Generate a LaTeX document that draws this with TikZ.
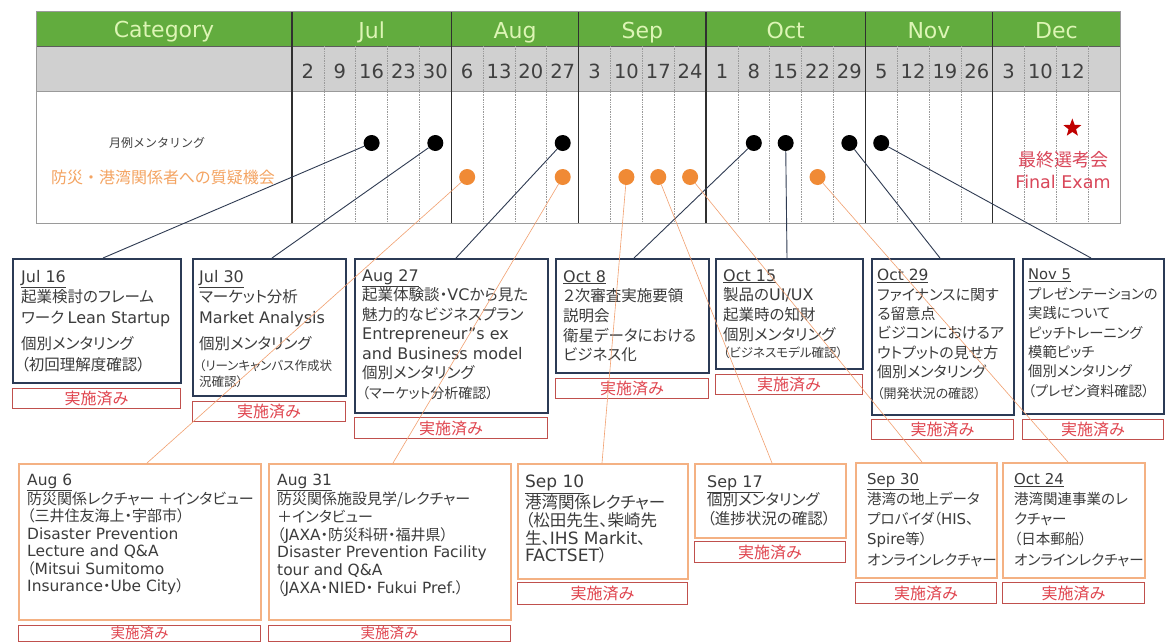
\documentclass[tikz,border=0pt]{standalone}
\usepackage{fontspec}
\setmainfont{DejaVu Sans}
\newfontfamily\jp[RawFeature=+palt]{Noto Sans CJK JP}
\newfontfamily\jpm{Noto Sans CJK JP}
\newfontfamily\lat[Scale=1.03]{DejaVu Sans}
\newfontfamily\hdf{DejaVu Sans}
\usetikzlibrary{calc,shapes.geometric}
\newcommand\ltn[1]{{\lat #1}}
\newcommand\fs[2]{\fontsize{#1}{#2}\selectfont}
\definecolor{hdrgreen}{HTML}{62AC3E}
\definecolor{hdrtext}{HTML}{DDF5B5}
\definecolor{rowgray}{HTML}{D0D0D0}
\definecolor{daytext}{HTML}{404040}
\definecolor{gridgray}{HTML}{9A9A9A}
\definecolor{monthline}{HTML}{303030}
\definecolor{dotorange}{HTML}{F08A35}
\definecolor{labelorange}{HTML}{F4A462}
\definecolor{navy}{HTML}{2B3A55}
\definecolor{peach}{HTML}{F4B183}
\definecolor{doneborder}{HTML}{C0504D}
\definecolor{donetext}{HTML}{E0454F}
\definecolor{boxtext}{HTML}{3C3C3C}
\definecolor{linenavy}{HTML}{2F3B52}
\definecolor{lineorange}{HTML}{F2A070}
\definecolor{starred}{HTML}{C00000}
\definecolor{examred}{HTML}{D9475A}
\begin{document}
\begin{tikzpicture}[x=1pt,y=-1pt,
  hdr/.style={font=\hdf\fs{22}{26}, text=hdrtext, inner sep=0, anchor=base},
  day/.style={font=\hdf\fs{19.5}{22}, text=daytext, inner sep=0, anchor=base},
  weekline/.style={draw=gridgray, line width=0.7pt, densely dotted},
  monthsep/.style={draw=monthline, line width=1.3pt},
  bdot/.style={circle, fill=black, minimum size=16pt, inner sep=0},
  odot/.style={circle, fill=dotorange, minimum size=16pt, inner sep=0},
  topbox/.style={draw=navy, line width=2pt, fill=white, anchor=north west, inner sep=0},
  botbox/.style={draw=peach, line width=1.5pt, fill=white, anchor=north west, inner sep=0},
  donebox/.style={draw=doneborder, line width=1pt, fill=white, anchor=north west, inner sep=0, text=donetext, font=\jp\fs{16}{18}},
  btxt/.style={anchor=north west, inner sep=0, align=left, text=boxtext},
  bline/.style={draw=linenavy, line width=0.9pt},
  oline/.style={draw=lineorange, line width=0.6pt},
]
\useasboundingbox (0,0) rectangle (1165,641);
\clip (0,0) rectangle (1165,641);
\fill[white] (0,0) rectangle (1165,641);

% ---------- table ----------
\fill[hdrgreen] (36,11) rectangle (1120,46);
\fill[rowgray] (36,46) rectangle (1120,91);
\draw[draw=gridgray!60!black, line width=0.6pt] (36,46) -- (1120,46);
\draw[draw=gridgray, line width=0.6pt] (36,91) -- (1120,91);
\foreach \i in {1,2,3,4,6,7,8,10,11,12,14,15,16,17,19,20,21,23,24,25}
  \draw[weekline] ({292+\i*31.85},46) -- ({292+\i*31.85},223);
\foreach \i in {0,5,9,13,18,22}
  \draw[monthsep] ({292+\i*31.85},11) -- ({292+\i*31.85},223);
\draw[draw=gridgray, line width=0.8pt] (36,11) rectangle (1120,223);

\node[hdr] (hcat) at (164,37) {Category};
\node[hdr] (hjul) at (371.6,38) {Jul};
\node[hdr] (haug) at (515,38) {Aug};
\node[hdr] (hsep) at (642.3,38) {Sep};
\node[hdr] (hoct) at (785.7,38) {Oct};
\node[hdr] (hnov) at (929,38) {Nov};
\node[hdr] (hdec) at (1056.4,38) {Dec};
\foreach \d [count=\i from 0] in {2,9,16,23,30,6,13,20,27,3,10,17,24,1,8,15,22,29,5,12,19,26,3,10,12}
  \node[day] (day\i) at ({292+(\i+0.5)*31.85},78) {\d};

\node[inner sep=0, font=\jpm\fs{12}{14}, text=daytext] (lblmentor) at (157,143) {月例メンタリング};
\node[inner sep=0, font=\jpm\fs{16}{18}, text=labelorange] (lblqa) at (163,177) {防災・港湾関係者への質疑機会};

% ---------- dots ----------
\node[bdot] (dJ16) at ({292+2.5*31.85},143) {};
\node[bdot] (dJ30) at ({292+4.5*31.85},143) {};
\node[bdot] (dA27) at ({292+8.5*31.85},143) {};
\node[bdot] (dO8)  at ({292+14.5*31.85},143) {};
\node[bdot] (dO15) at ({292+15.5*31.85},143) {};
\node[bdot] (dO29) at ({292+17.5*31.85},143) {};
\node[bdot] (dN5)  at ({292+18.5*31.85},143) {};
\node[odot] (oA6)  at ({292+5.5*31.85},177) {};
\node[odot] (oA27) at ({292+8.5*31.85},177) {};
\node[odot] (oS10) at ({292+10.5*31.85},177) {};
\node[odot] (oS17) at ({292+11.5*31.85},177) {};
\node[odot] (oS24) at ({292+12.5*31.85},177) {};
\node[odot] (oO22) at ({292+16.5*31.85},177) {};

\node[star, star points=5, star point ratio=2.4, minimum size=19pt, inner sep=0, fill=starred] (star) at ({292+24.5*31.85},128) {};
\node[inner sep=0, font=\jp\fs{18}{20}, text=examred] (exjp) at (1063,160) {最終選考会};
\node[inner sep=0, font=\hdf\fs{17.5}{20}, text=examred] (exen) at (1063,182) {Final Exam};

% ---------- top boxes ----------
\node[topbox, minimum width=168pt, minimum height=124pt] (bJ16) at (12,258) {};
\node[donebox, minimum width=168pt, minimum height=20pt] (kJ16) at (12,388) {実施済み};
\node[btxt, font=\jp\fs{15.5}{20.5}] (tJ16) at ($(bJ16.north west)+(9,12)$) {\underline{\ltn{Jul 16}}\\起業検討のフレーム\\ワーク \ltn{Lean Startup}\\[6pt]個別メンタリング\\（初回理解度確認）};

\node[topbox, minimum width=153pt, minimum height=137pt] (bJ30) at (192,258) {};
\node[donebox, minimum width=153pt, minimum height=20pt] (kJ30) at (192,401) {実施済み};
\node[btxt, font=\jp\fs{15.5}{20.5}] (tJ30) at ($(bJ30.north west)+(7,12)$) {\underline{\ltn{Jul 30}}\\マーケット分析\\\ltn{Market Analysis}\\[6pt]個別メンタリング\\{\fs{12.5}{16}（リーンキャンバス作成状}\\[-4.5pt]{\fs{12.5}{16}況確認）}};

\node[topbox, minimum width=193pt, minimum height=154pt] (bA27) at (354,258) {};
\node[donebox, minimum width=193pt, minimum height=21pt] (kA27) at (354,417) {実施済み};
\node[btxt, font=\jp\fs{15.5}{19.5}] (tA27) at ($(bA27.north west)+(8,11)$) {\underline{\ltn{Aug 27}}\\起業体験談・\ltn{VC}から見た\\魅力的なビジネスプラン\\\ltn{Entrepreneur”s ex}\\\ltn{and Business model}\\個別メンタリング\\{\fs{14}{19.5}（マーケット分析確認）}};

\node[topbox, minimum width=153pt, minimum height=114pt] (bO8) at (555,258) {};
\node[donebox, minimum width=153pt, minimum height=20pt] (kO8) at (555,378) {実施済み};
\node[btxt, font=\jp\fs{15.5}{19.7}] (tO8) at ($(bO8.north west)+(8,12)$) {\underline{\ltn{Oct 8}}\\２次審査実施要領\\説明会\\衛星データにおける\\ビジネス化};

\node[topbox, minimum width=147pt, minimum height=110pt] (bO15) at (715,258) {};
\node[donebox, minimum width=147pt, minimum height=20pt] (kO15) at (715,374) {実施済み};
\node[btxt, font=\jp\fs{15.5}{19.7}] (tO15) at ($(bO15.north west)+(8,11)$) {\underline{\ltn{Oct 15}}\\製品の\ltn{UI/UX}\\起業時の知財\\個別メンタリング\\[-2pt]{\fs{12.5}{16}（ビジネスモデル確認）}};

\node[topbox, minimum width=142pt, minimum height=156pt] (bO29) at (871,258) {};
\node[donebox, minimum width=142pt, minimum height=20pt] (kO29) at (871,419) {実施済み};
\node[btxt, font=\jp\fs{15}{19.4}] (tO29) at ($(bO29.north west)+(6,11)$) {\underline{\ltn{Oct 29}}\\ファイナンスに関す\\る留意点\\ビジコンにおけるア\\ウトプットの見せ方\\個別メンタリング\\[1pt]{\fs{13}{16}（開発状況の確認）}};

\node[topbox, minimum width=141pt, minimum height=155pt] (bN5) at (1022,258) {};
\node[donebox, minimum width=141pt, minimum height=20pt] (kN5) at (1022,419) {実施済み};
\node[btxt, font=\jp\fs{14.3}{19.4}] (tN5) at ($(bN5.north west)+(6,11)$) {\underline{\ltn{Nov 5}}\\プレゼンテーションの\\実践について\\ピッチトレーニング\\模範ピッチ\\個別メンタリング\\{\fs{14}{19.4}（プレゼン資料確認）}};

% ---------- bottom boxes ----------
\node[botbox, minimum width=242pt, minimum height=156pt] (bA6) at (18,463) {};
\node[donebox, minimum width=242pt, minimum height=16pt, font=\jp\fs{14.5}{16}] (kA6) at (18,624.5) {実施済み};
\node[btxt, font=\jp\fs{15}{17.4}] (tA6) at ($(bA6.north west)+(9,11)$) {\underline{\ltn{Aug 6}}\\防災関係レクチャー ＋インタビュー\\（三井住友海上・宇部市）\\\ltn{Disaster Prevention}\\\ltn{Lecture and Q\&A}\\（\ltn{Mitsui Sumitomo}\\\ltn{Insurance}・\ltn{Ube City}）};

\node[botbox, minimum width=242pt, minimum height=156pt] (bA31) at (268,463) {};
\node[donebox, minimum width=242pt, minimum height=16pt, font=\jp\fs{14.5}{16}] (kA31) at (268,624.5) {実施済み};
\node[btxt, font=\jp\fs{15}{17.8}] (tA31) at ($(bA31.north west)+(9,11)$) {\underline{\ltn{Aug 31}}\\防災関係施設見学/レクチャー\\＋インタビュー\\（\ltn{JAXA}・防災科研・福井県）\\\ltn{Disaster Prevention Facility}\\\ltn{tour and Q\&A}\\（\ltn{JAXA}・\ltn{NIED}・ \ltn{Fukui Pref.}）};

\node[botbox, minimum width=170pt, minimum height=115pt] (bS10) at (517,463) {};
\node[donebox, minimum width=170pt, minimum height=22pt] (kS10) at (517,582) {実施済み};
\node[btxt, font=\jp\fs{16.5}{17.9}] (tS10) at ($(bS10.north west)+(8,12)$) {\underline{\ltn{Sep 10}}\\港湾関係レクチャー\\（松田先生、柴崎先\\生、\ltn{IHS Markit}、\\\ltn{FACTSET}）};

\node[botbox, minimum width=151pt, minimum height=74pt] (bS17) at (694,463) {};
\node[donebox, minimum width=151pt, minimum height=21pt] (kS17) at (694,541) {実施済み};
\node[btxt, font=\jp\fs{15.5}{18.5}] (tS17) at ($(bS17.north west)+(13,12)$) {\underline{\ltn{Sep 17}}\\個別メンタリング\\（進捗状況の確認）};

\node[botbox, minimum width=141pt, minimum height=115pt] (bS30) at (855,462) {};
\node[donebox, minimum width=141pt, minimum height=21pt] (kS30) at (855,582) {実施済み};
\node[btxt, font=\jp\fs{14.5}{20.2}] (tS30) at ($(bS30.north west)+(12,11)$) {\underline{\ltn{Sep 30}}\\港湾の地上データ\\プロバイダ（\ltn{HIS}、\\\ltn{Spire}等）\\オンラインレクチャー};

\node[botbox, minimum width=142pt, minimum height=115pt] (bO24) at (1002,462) {};
\node[donebox, minimum width=142pt, minimum height=21pt] (kO24) at (1002,582) {実施済み};
\node[btxt, font=\jp\fs{14.5}{20.2}] (tO24) at ($(bO24.north west)+(12,11)$) {\underline{\ltn{Oct 24}}\\港湾関連事業のレ\\クチャー\\（日本郵船）\\オンラインレクチャー};

% ---------- connector ends ----------
\coordinate (eJ16) at ($(bJ16.north west)+(91,0)$);
\coordinate (eJ30) at ($(bJ30.north west)+(80,0)$);
\coordinate (eA27) at ($(bA27.north west)+(102,0)$);
\coordinate (eO8)  at ($(bO8.north west)+(79,0)$);
\coordinate (eO15) at ($(bO15.north west)+(72,0)$);
\coordinate (eO29) at ($(bO29.north west)+(69,0)$);
\coordinate (eN5)  at ($(bN5.north west)+(69,0)$);
\coordinate (eA6)  at ($(bA6.north west)+(129,0)$);
\coordinate (eA31) at ($(bA31.north west)+(125,0)$);
\coordinate (eS10) at ($(bS10.north west)+(85,0)$);
\coordinate (eS17) at ($(bS17.north west)+(78,0)$);
\coordinate (eS30) at ($(bS30.north west)+(67,0)$);
\coordinate (eO24) at ($(bO24.north west)+(66,0)$);

% ---------- connectors ----------
\draw[bline] (dJ16) -- (eJ16);
\draw[bline] (dJ30) -- (eJ30);
\draw[bline] (dA27) -- (eA27);
\draw[bline] (dO8) -- (eO8);
\draw[bline] (dO15) -- (eO15);
\draw[bline] (dO29) -- (eO29);
\draw[bline] (dN5) -- (eN5);
\draw[oline] (oA6) -- (eA6);
\draw[oline] (oA27) -- (eA31);
\draw[oline] (oS10) -- (eS10);
\draw[oline] (oS17) -- (eS17);
\draw[oline] (oS24) -- (eS30);
\draw[oline] (oO22) -- (eO24);
\end{tikzpicture}
\end{document}
